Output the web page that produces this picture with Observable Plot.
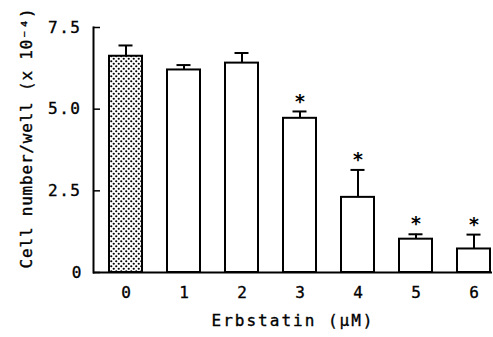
<!DOCTYPE html>
<html>
<head>
<meta charset="utf-8">
<script src="https://cdn.jsdelivr.net/npm/d3@7"></script>
<script src="https://cdn.jsdelivr.net/npm/@observablehq/plot@0.6"></script>
<style>
  html, body { margin: 0; padding: 0; background: #fff; }
  svg { font-family: "DejaVu Sans Mono", monospace; }
</style>
</head>
<body>
<div id="chart"></div>
<script>
const concentrations = ["0", "1", "2", "3", "4", "5", "6"];
const cellNumbers = [6.62, 6.20, 6.41, 4.72, 2.30, 1.02, 0.72];
const errorTops = [6.95, 6.35, 6.72, 4.93, 3.14, 1.17, 1.16];
const significant = [false, false, false, true, true, true, true];
const yTicks = [0, 2.5, 5.0, 7.5];
const yTickLabels = ["0", "2.5", "5.0", "7.5"];
const xLabel = "Erbstatin (\u03bcM)";
const yLabel = "Cell number/well (x 10\u207b\u2074)";

const rows = concentrations.map((c, i) => ({
  c, v: cellNumbers[i], e: errorTops[i], sig: significant[i], control: i === 0
}));

const plot = Plot.plot({
  width: 493,
  height: 337,
  marginLeft: 93,
  marginRight: 1,
  marginTop: 27,
  marginBottom: 65,
  style: { fontFamily: "DejaVu Sans Mono, monospace", fontSize: "16px", color: "#000", background: "#fff" },
  x: { type: "band", domain: concentrations, range: [108, 490], paddingInner: 0.433, paddingOuter: 0, label: null },
  y: { domain: [0, 7.5], range: [272, 27], label: null },
  marks: [
    Plot.ruleX(rows, { x: "c", y1: "v", y2: "e", stroke: "#000", strokeWidth: 2 }),
    Plot.tickY(rows, { x: "c", y: "e", stroke: "#000", strokeWidth: 2, insetLeft: 9.5, insetRight: 9.5 }),
    Plot.barY(rows.filter(d => !d.control), { x: "c", y: "v", fill: "#fff", stroke: "#000", strokeWidth: 2 }),
    Plot.barY(rows.filter(d => d.control), { x: "c", y: "v", fill: "url(#dots)", stroke: "#000", strokeWidth: 2 }),
    Plot.text(rows.filter(d => d.sig), { x: "c", y: "e", text: () => "*", dy: -10, fontSize: 19, fontWeight: "bold", fill: "#000" }),
    Plot.frame({ anchor: "left", stroke: "#000", strokeWidth: 2 }),
    Plot.ruleY([0], { stroke: "#000", strokeWidth: 2 }),
    Plot.axisY({ ticks: yTicks, tickFormat: (d) => yTickLabels[yTicks.indexOf(d)], tickSize: -7, tickPadding: 19, strokeWidth: 1.5, label: null, fontSize: 16 }),
    Plot.axisX({ tickSize: 0, tickPadding: 14, label: null, fontSize: 16 }),
    Plot.text([xLabel], { frameAnchor: "bottom", dy: 53, text: d => d, fontSize: 16, fill: "#000" }),
    Plot.text([yLabel], { frameAnchor: "left", textAnchor: "middle", rotate: -90, dx: -67, dy: -12, text: d => d, fontSize: 16, fill: "#000" })
  ]
});

const svg = d3.select(plot);
// spacing and weight of the typewriter-like lettering
svg.selectAll("text").each(function () {
  const t = this.textContent;
  const s = d3.select(this);
  if (t !== "*") s.attr("stroke", "#000").attr("stroke-width", 0.35);
  if (t === xLabel) s.attr("letter-spacing", "2px");
  else if (t === yLabel) s.attr("letter-spacing", "0.8px");
  else if (yTickLabels.includes(t) && t.length > 1) s.attr("letter-spacing", "1.5px");
});
const defs = svg.insert("defs", ":first-child");
const pat = defs.append("pattern")
  .attr("id", "dots").attr("patternUnits", "userSpaceOnUse")
  .attr("width", 5).attr("height", 5);
pat.append("rect").attr("width", 5).attr("height", 5).attr("fill", "#fff");
pat.append("circle").attr("cx", 1.25).attr("cy", 1.25).attr("r", 1.1).attr("fill", "#000");
pat.append("circle").attr("cx", 3.75).attr("cy", 3.75).attr("r", 1.1).attr("fill", "#000");

document.getElementById("chart").appendChild(plot);
</script>
</body>
</html>
